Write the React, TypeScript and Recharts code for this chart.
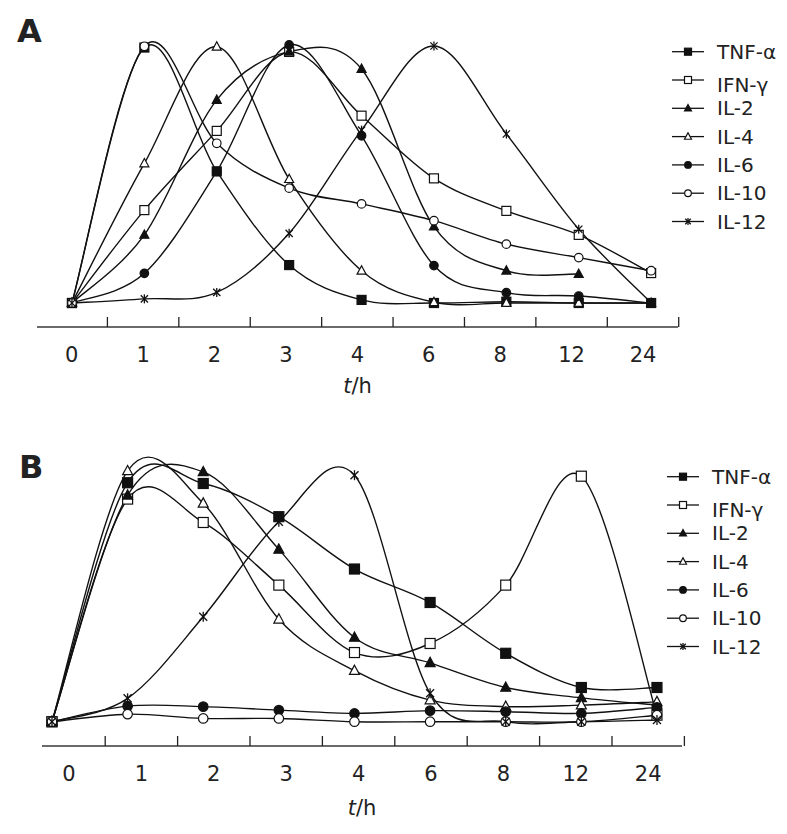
import React from 'react';
import { LineChart, Line, XAxis, YAxis, Legend } from 'recharts';

// ---------- data ----------
const TIMES = ['0', '1', '2', '3', '4', '6', '8', '12', '24'];
const SERIES_NAMES = ['TNF-α', 'IFN-γ', 'IL-2', 'IL-4', 'IL-6', 'IL-10', 'IL-12'];

// Panel A (relative level, 0-100)
const A_TNF = [0, 99, 51, 14.7, 1.2, 0, 0.5, 0, 0];
const A_IFN = [0, 36, 66.7, 97.3, 72.6, 48.3, 35.7, 26.4, 11.6];
const A_IL2 = [0, 26.4, 78.7, 97.4, 90.7, 29.6, 12.5, 11.2, null];
const A_IL4 = [0, 54.1, 99.3, 48, 12.5, 0.3, 0, 0, 0];
const A_IL6 = [0, 11.5, 51, 100, 64.8, 14.5, 4, 2.7, 0];
const A_IL10 = [0, 99.5, 61.9, 44.5, 38.4, 31.9, 22.8, 17.6, 12.5];
const A_IL12 = [0, 1.6, 4.1, 27, 67, 99.6, 65.5, 28.6, 0];

// Panel B (relative level, 0-100)
const B_TNF = [0, 95, 94.7, 81.5, 60.7, 47.4, 27.2, 13.6, 13.6];
const B_IFN = [0, 88.5, 79.2, 54.3, 27.5, 31.1, 54.3, 97.6, 2.6];
const B_IL2 = [0, 90, 99.3, 68.5, 33.5, 23.4, 13.6, 9.5, 6.6];
const B_IL4 = [0, 99.7, 86.8, 40.7, 20.3, 8.6, 6, 6.6, 7.9];
const B_IL6 = [0, 6.2, 6, 4.6, 3.3, 4.4, 4, 3.3, 5.7];
const B_IL10 = [0, 3, 1.3, 1.3, 0, 0, 0, 0, 2.6];
const B_IL12 = [0, 9.3, 41.7, 79.5, 98, 11.3, 0, 0, 0.7];

const KEYS = ['tnf', 'ifn', 'il2', 'il4', 'il6', 'il10', 'il12'];
const SHAPES = [
  { shape: 'square', filled: true },
  { shape: 'square', filled: false },
  { shape: 'triangle', filled: true },
  { shape: 'triangle', filled: false },
  { shape: 'circle', filled: true },
  { shape: 'circle', filled: false },
  { shape: 'star', filled: false },
];

function buildRows(cols: (number | null)[][]) {
  return TIMES.map((t, i) => {
    const row: any = { idx: i, time: t };
    KEYS.forEach((k, j) => {
      row[k] = cols[j][i];
    });
    return row;
  });
}

const DATA_A = buildRows([A_TNF, A_IFN, A_IL2, A_IL4, A_IL6, A_IL10, A_IL12]);
const DATA_B = buildRows([B_TNF, B_IFN, B_IL2, B_IL4, B_IL6, B_IL10, B_IL12]);

const FONT = '"DejaVu Sans", Verdana, sans-serif';
const INK = '#111';

// ---------- Catmull-Rom (Excel-like smoothing) curve factory ----------
function smoothCurve(context: any) {
  let pts: [number, number][] = [];
  return {
    areaStart() {},
    areaEnd() {},
    lineStart() {
      pts = [];
    },
    lineEnd() {
      const n = pts.length;
      if (!n) return;
      context.moveTo(pts[0][0], pts[0][1]);
      for (let i = 0; i < n - 1; i++) {
        const p0 = pts[i - 1] || pts[i];
        const p1 = pts[i];
        const p2 = pts[i + 1];
        const p3 = pts[i + 2] || p2;
        context.bezierCurveTo(
          p1[0] + (p2[0] - p0[0]) / 6,
          p1[1] + (p2[1] - p0[1]) / 6,
          p2[0] - (p3[0] - p1[0]) / 6,
          p2[1] - (p3[1] - p1[1]) / 6,
          p2[0],
          p2[1]
        );
      }
    },
    point(x: number, y: number) {
      pts.push([+x, +y]);
    },
  };
}

// ---------- markers ----------
function Marker({ shape, filled, cx, cy, s }: any) {
  const h = s / 2;
  const fill = filled ? INK : '#fff';
  if (shape === 'square') {
    return <rect x={cx - h} y={cy - h} width={s} height={s} fill={fill} stroke={INK} strokeWidth={1.2} />;
  }
  if (shape === 'triangle') {
    const pts = `${cx},${cy - h * 1.1} ${cx - h},${cy + h * 0.75} ${cx + h},${cy + h * 0.75}`;
    return <polygon points={pts} fill={fill} stroke={INK} strokeWidth={1.2} strokeLinejoin="miter" />;
  }
  if (shape === 'circle') {
    return <circle cx={cx} cy={cy} r={h * 0.95} fill={fill} stroke={INK} strokeWidth={1.2} />;
  }
  const d = h * 0.8;
  return (
    <g stroke={INK} strokeWidth={1.3}>
      <line x1={cx} y1={cy - h} x2={cx} y2={cy + h} />
      <line x1={cx - d} y1={cy - d} x2={cx + d} y2={cy + d} />
      <line x1={cx - d} y1={cy + d} x2={cx + d} y2={cy - d} />
    </g>
  );
}

function makeDot(j: number, size: number) {
  return (p: any) => {
    const key = `dot-${j}-${p.index}`;
    if (p.cx == null || p.cy == null || p.value == null || Number.isNaN(p.cy)) return <g key={key} />;
    return (
      <g key={key}>
        <Marker shape={SHAPES[j].shape} filled={SHAPES[j].filled} cx={p.cx} cy={p.cy} s={size} />
      </g>
    );
  };
}

// ---------- axis ticks ----------
function AxisTick(props: any) {
  const { x, y, payload } = props;
  const v = payload.value;
  if (Number.isInteger(v)) {
    return (
      <text x={x} y={y + 35} textAnchor="middle" fontSize={21} fontFamily={FONT} fill="#222">
        {TIMES[v]}
      </text>
    );
  }
  return <line x1={x} x2={x} y1={y} y2={y - 10} stroke="#222" strokeWidth={1.3} />;
}

const TICKS = [0, 0.5, 1, 1.5, 2, 2.5, 3, 3.5, 4, 4.5, 5, 5.5, 6, 6.5, 7, 7.5, 8, 8.5];

function AxisTitle(props: any) {
  const vb = props.viewBox;
  return (
    <text x={vb.x + vb.width / 2} y={vb.y + props.dyBase} textAnchor="middle" fontSize={21} fontFamily={FONT} fill="#222">
      <tspan fontStyle="italic">t</tspan>
      <tspan>/h</tspan>
    </text>
  );
}

// ---------- legend ----------
function LegendBox() {
  return (
    <svg width={127} height={210}>
      {SERIES_NAMES.map((name, j) => {
        const cy = 21.7 + 28.3 * j;
        const ty = cy + 7 + (j === 1 ? 5 : 0);
        return (
          <g key={name}>
            <line x1={12} x2={44} y1={cy} y2={cy} stroke={INK} strokeWidth={1.3} />
            <Marker shape={SHAPES[j].shape} filled={SHAPES[j].filled} cx={28} cy={cy} s={7} />
            <text x={57} y={ty} fontSize={20} fontFamily={FONT} fill="#222">
              {name}
            </text>
          </g>
        );
      })}
    </svg>
  );
}

function Panel({ data, height, margin, yDomain, dataDomain, labDomain, legendPos, markerSize, titleDy }: any) {
  return (
    <LineChart width={787} height={height} data={data} margin={margin}>
      <XAxis
        xAxisId="lab"
        dataKey="idx"
        type="number"
        domain={labDomain}
        allowDataOverflow
        ticks={TICKS}
        interval={0}
        tick={<AxisTick />}
        tickLine={false}
        tickSize={0}
        tickMargin={0}
        axisLine={{ stroke: '#6a6a6a', strokeWidth: 2 }}
        height={margin.xh}
        label={{ content: (p: any) => <AxisTitle {...p} dyBase={titleDy} /> }}
      />
      <XAxis
        xAxisId="data"
        dataKey="idx"
        type="number"
        orientation="top"
        height={0}
        domain={dataDomain}
        allowDataOverflow
        hide
      />
      <YAxis hide domain={yDomain} allowDataOverflow />
      <Legend
        layout="horizontal"
        verticalAlign="middle"
        align="center"
        wrapperStyle={{ left: legendPos.left, top: legendPos.top, width: 127, height: 210 }}
        content={() => <LegendBox />}
      />
      {KEYS.map((k, j) => (
        <Line
          key={k}
          xAxisId="data"
          dataKey={k}
          name={SERIES_NAMES[j]}
          type={smoothCurve as any}
          stroke={INK}
          strokeWidth={1.4}
          dot={makeDot(j, markerSize)}
          activeDot={false}
          connectNulls={false}
          isAnimationActive={false}
        />
      ))}
    </LineChart>
  );
}

export default function App() {
  return (
    <div style={{ position: 'absolute', left: 0, top: 0, width: 787, height: 834, background: '#fff' }}>
      <div style={{ position: 'absolute', left: 0, top: 0 }}>
        <Panel
          data={DATA_A}
          height={410}
          margin={{ top: 30, right: 109, left: 37, bottom: 13, xh: 70 }}
          yDomain={[-9.3, 105.8]}
          dataDomain={[-0.483, 8.371]}
          labDomain={[-0.486, 8.49]}
          legendPos={{ left: 660, top: 30 }}
          markerSize={9}
          titleDy={66}
        />
      </div>
      <div style={{ position: 'absolute', left: 0, top: 410 }}>
        <Panel
          data={DATA_B}
          height={424}
          margin={{ top: 35, right: 105, left: 42, bottom: 8, xh: 80 }}
          yDomain={[-9.65, 110]}
          dataDomain={[-0.132, 8.331]}
          labDomain={[-0.373, 8.467]}
          legendPos={{ left: 655, top: 45 }}
          markerSize={10}
          titleDy={69}
        />
      </div>
      <svg width={787} height={834} style={{ position: 'absolute', left: 0, top: 0, pointerEvents: 'none' }}>
        <text x={17} y={42} fontSize={32} fontWeight="bold" fontFamily={FONT} fill="#222">A</text>
        <text x={19} y={478} fontSize={32} fontWeight="bold" fontFamily={FONT} fill="#222">B</text>
      </svg>
    </div>
  );
}
